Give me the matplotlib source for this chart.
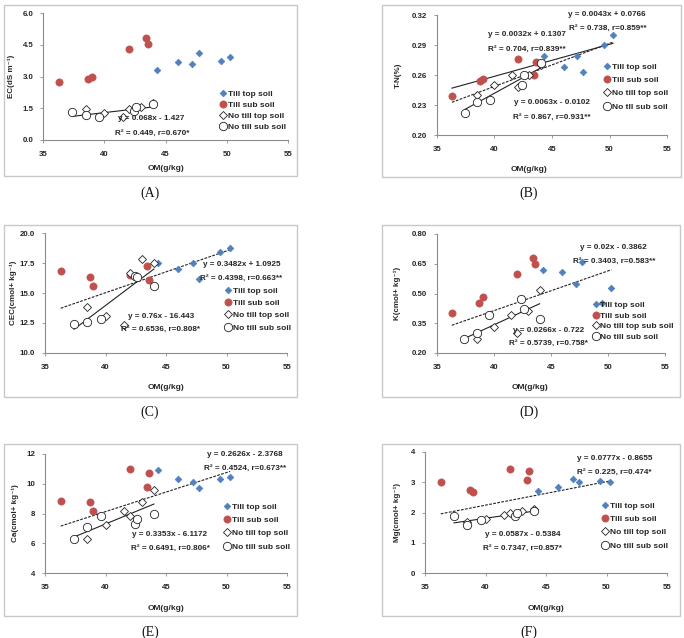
import numpy as np
import matplotlib.pyplot as plt
from matplotlib.patches import Rectangle

plt.rcParams['font.family'] = ['Liberation Sans', 'DejaVu Sans']

# OM (g/kg) for each group
om_till_top = [44.3, 46.0, 47.2, 47.7, 49.5, 50.3]
om_till_sub = [36.3, 38.7, 39.0, 42.0, 43.4, 43.6]
om_nt_top = [38.5, 40.0, 41.5, 42.0, 43.0, 44.0]
om_nt_sub = [37.4, 38.5, 39.6, 42.4, 42.6, 44.0]

# (A) EC
ec_till_top = [3.32, 3.70, 3.57, 4.10, 3.73, 3.92]
ec_till_sub = [2.75, 2.87, 2.98, 4.32, 4.82, 4.55]
ec_nt_top = [1.45, 1.27, 1.08, 1.45, 1.58, 1.75]
ec_nt_sub = [1.32, 1.18, 1.07, 1.38, 1.58, 1.72]

# (B) T-N
tn_till_top = [0.279, 0.268, 0.279, 0.263, 0.290, 0.300]
tn_till_sub = [0.239, 0.254, 0.256, 0.276, 0.260, 0.273]
tn_nt_top = [0.240, 0.250, 0.260, 0.248, 0.260, 0.270]
tn_nt_sub = [0.222, 0.233, 0.235, 0.250, 0.260, 0.272]

# (C) CEC
cec_till_top = [17.5, 17.0, 17.5, 16.2, 18.4, 18.75]
cec_till_sub = [16.8, 16.35, 15.55, 16.5, 17.25, 16.1]
cec_nt_top = [13.85, 13.1, 12.35, 16.7, 17.85, 17.5]
cec_nt_sub = [12.45, 12.6, 12.85, 16.4, 16.3, 15.55]

# (D) K
k_till_top = [0.62, 0.61, 0.55, 0.66, 0.45, 0.53]
k_till_sub = [0.40, 0.45, 0.48, 0.60, 0.68, 0.65]
k_nt_top = [0.27, 0.33, 0.39, 0.30, 0.41, 0.52]
k_nt_sub = [0.27, 0.30, 0.39, 0.47, 0.42, 0.37]

# (E) Ca
ca_till_top = [10.9, 10.3, 10.1, 9.7, 10.3, 10.45]
ca_till_sub = [8.85, 8.75, 8.2, 11.0, 9.8, 10.7]
ca_nt_top = [6.3, 7.25, 8.15, 7.85, 8.8, 9.6]
ca_nt_sub = [6.3, 7.1, 7.8, 7.3, 7.65, 8.0]

# (F) Mg
mg_till_top = [2.7, 2.85, 3.1, 3.0, 3.05, 3.0]
mg_till_sub = [3.0, 2.75, 2.68, 3.45, 3.08, 3.38]
mg_nt_top = [1.68, 1.8, 1.92, 2.0, 2.05, 2.1]
mg_nt_sub = [1.9, 1.6, 1.75, 1.9, 1.97, 2.05]

legend_labels = ['Till top soil', 'Till sub soil', 'No till top soil', 'No till sub soil']

W, H = 684, 638
fig = plt.figure(figsize=(6.84, 6.38), dpi=100)


def fx(x):
    return x / W


def fy(y):
    return 1 - y / H


TXT = '#262626'

panels = [
    dict(tag='(A)', box=(4, 5, 297, 176), ax=(43, 13, 288, 140),
         ys=[ec_till_top, ec_till_sub, ec_nt_top, ec_nt_sub],
         ylim=(0, 6), step=1.5, fmt='{:.1f}', ylabel='EC(dS m⁻¹)',
         ylab_x=11, xlab=(166, 169), tag_pos=(150, 193),
         lines=[(0.068, -1.427, 37.4, 44.0, '-')],
         texts=[(118, 118, 'y = 0.068x - 1.427'), (115, 133, 'R² = 0.449, r=0.670*')],
         leg=(223, 95, 0.4), labels=legend_labels),
    dict(tag='(B)', box=(382, 5, 681, 177), ax=(437, 15, 667, 135),
         ys=[tn_till_top, tn_till_sub, tn_nt_top, tn_nt_sub],
         ylim=(0.20, 0.32), step=0.03, fmt='{:.2f}', ylabel='T-N(%)',
         ylab_x=398, xlab=(529, 169), tag_pos=(529, 193),
         lines=[(0.0043, 0.0766, 36.3, 50.3, '--'), (0.0032, 0.1307, 36.3, 50.3, '-'),
                (0.0063, -0.0102, 37.4, 44.0, '-')],
         texts=[(568, 14, 'y = 0.0043x + 0.0766'), (569, 28, 'R² = 0.738, r=0.859**'),
                (488, 34, 'y = 0.0032x + 0.1307'), (488, 49, 'R² = 0.704, r=0.839**'),
                (514, 103, 'y = 0.0063x - 0.0102'), (513, 117, 'R² = 0.867, r=0.931**')],
         leg=(607, 68, 0.65),
         labels=['Till top soil', 'Till sub soil', 'No till top soil', 'No tll sub soil']),
    dict(tag='(C)', box=(4, 225, 297, 397), ax=(45, 233, 287, 353),
         ys=[cec_till_top, cec_till_sub, cec_nt_top, cec_nt_sub],
         ylim=(10, 20), step=2.5, fmt='{:.1f}', ylabel='CEC(cmol+ kg⁻¹)',
         ylab_x=13, xlab=(166, 388), tag_pos=(150, 412),
         lines=[(0.3482, 1.0925, 36.3, 50.3, '--'), (0.76, -16.443, 37.4, 44.0, '-')],
         texts=[(203, 265, 'y = 0.3482x + 1.0925'), (200, 278, 'R² = 0.4398, r=0.663**'),
                (128, 317, 'y = 0.76x - 16.443'), (121, 329, 'R² = 0.6536, r=0.808*')],
         leg=(228, 292, 0.53), labels=legend_labels),
    dict(tag='(D)', box=(382, 225, 680, 397), ax=(437, 234, 665, 353),
         ys=[k_till_top, k_till_sub, k_nt_top, k_nt_sub],
         ylim=(0.20, 0.80), step=0.15, fmt='{:.2f}', ylabel='K(cmol+ kg⁻¹)',
         ylab_x=397, xlab=(530, 388), tag_pos=(529, 412),
         lines=[(0.02, -0.3862, 36.3, 50.3, '--'), (0.0266, -0.722, 37.4, 44.0, '-')],
         texts=[(580, 247, 'y = 0.02x - 0.3862'), (573, 261, 'R² = 0.3403, r=0.583**'),
                (513, 330, 'y = 0.0266x - 0.722'), (509, 343, 'R² = 0.5739, r=0.758*')],
         leg=(596, 306, 0.35),
         labels=['Till top soil', 'Till sub soil', 'No till top sub soil', 'No till sub soil']),
    dict(tag='(E)', box=(4, 444, 297, 616), ax=(45, 454, 287, 573),
         ys=[ca_till_top, ca_till_sub, ca_nt_top, ca_nt_sub],
         ylim=(4, 12), step=2, fmt='{:.0f}', ylabel='Ca(cmol+ kg⁻¹)',
         ylab_x=15, xlab=(166, 608), tag_pos=(150, 632),
         lines=[(0.2626, -2.3768, 36.3, 50.3, '--'), (0.3353, -6.1172, 37.4, 44.0, '-')],
         texts=[(207, 454, 'y = 0.2626x - 2.3768'), (204, 468, 'R² = 0.4524, r=0.673**'),
                (132, 534, 'y = 0.3353x - 6.1172'), (131, 548, 'R² = 0.6491, r=0.806*')],
         leg=(227, 508, 0.65), labels=legend_labels),
    dict(tag='(F)', box=(382, 444, 680, 616), ax=(425, 452, 667, 573),
         ys=[mg_till_top, mg_till_sub, mg_nt_top, mg_nt_sub],
         ylim=(0, 4), step=1, fmt='{:.0f}', ylabel='Mg(cmol+ kg⁻¹)',
         ylab_x=397, xlab=(546, 608), tag_pos=(529, 632),
         lines=[(0.0777, -0.8655, 36.3, 50.3, '--'), (0.0587, -0.5384, 37.4, 44.0, '-')],
         texts=[(577, 459, 'y = 0.0777x - 0.8655'), (577, 472, 'R² = 0.225, r=0.474*'),
                (485, 534, 'y = 0.0587x - 0.5384'), (483, 548, 'R² = 0.7347, r=0.857*')],
         leg=(605, 507, 0.65), labels=legend_labels),
]

xs = [om_till_top, om_till_sub, om_nt_top, om_nt_sub]
styles = [
    dict(marker='D', ms=3.4, mfc='#4F81BD', mec='#4F81BD', mew=0.5),
    dict(marker='o', ms=5.2, mfc='#C0504D', mec='#C0504D', mew=0.5),
    dict(marker='D', ms=3.8, mfc='white', mec='#222222', mew=0.6),
    dict(marker='o', ms=6.0, mfc='white', mec='#222222', mew=0.6),
]

for p in panels:
    # outer grey frame
    bx0, by0, bx1, by1 = p['box']
    fig.patches.append(Rectangle((fx(bx0), fy(by1)), fx(bx1 - bx0), (by1 - by0) / H,
                                 transform=fig.transFigure, fill=False,
                                 edgecolor='#c8c8c8', lw=1.0))
    x0, y0, x1, y1 = p['ax']
    ax = fig.add_axes([fx(x0), fy(y1), fx(x1 - x0), (y1 - y0) / H])
    handles = []
    for xv, yv, st, lab in zip(xs, p['ys'], styles, p['labels']):
        h, = ax.plot(xv, yv, linestyle='none', label=lab, zorder=3, **st)
        handles.append(h)
    for slope, icpt, xa, xb, ls in p['lines']:
        xl = np.array([xa, xb])
        ax.plot(xl, slope * xl + icpt, color='#222222', lw=0.8, ls=ls,
                dashes=(2.5, 1.2) if ls == '--' else (None, None), zorder=2)
    ax.set_xlim(35, 55)
    ax.set_ylim(*p['ylim'])
    ax.set_xticks(np.arange(35, 56, 5))
    yt = np.arange(p['ylim'][0], p['ylim'][1] + p['step'] / 2, p['step'])
    ax.set_yticks(yt)
    ax.set_yticklabels([p['fmt'].format(v) for v in yt])
    for s in ['top', 'right']:
        ax.spines[s].set_visible(False)
    for s in ['left', 'bottom']:
        ax.spines[s].set_color('#8c8c8c')
        ax.spines[s].set_linewidth(0.8)
    ax.tick_params(length=2, width=0.6, color='#8c8c8c', labelsize=5.7,
                   labelcolor=TXT, pad=5)
    ax.tick_params(axis='x', pad=6)
    for t in ax.get_xticklabels() + ax.get_yticklabels():
        t.set_fontweight('bold')
    ax.set_ylabel(p['ylabel'], fontsize=5.8, fontweight='bold', color=TXT)
    ax.yaxis.label.set_va('center')
    ax.yaxis.set_label_coords((p['ylab_x'] - x0) / (x1 - x0), 0.5)
    ax.set_xlabel('OM(g/kg)', fontsize=6, fontweight='bold', color=TXT)
    ax.xaxis.label.set_va('center')
    ax.xaxis.set_label_coords((p['xlab'][0] - x0) / (x1 - x0),
                              (y1 - p['xlab'][1]) / (y1 - y0))
    ax.patch.set_alpha(0)
    for tx, ty, s in p['texts']:
        fig.text(fx(tx), fy(ty), s, fontsize=5.9, fontweight='bold', color=TXT,
                 ha='left', va='center')
    lx, ly, lsp = p['leg']
    ax.legend(handles=handles, loc='upper left', frameon=False,
              bbox_to_anchor=(fx(lx - 3), fy(ly - 5)), bbox_transform=fig.transFigure,
              borderpad=0, borderaxespad=0, handlelength=0.6, handletextpad=0.3,
              labelspacing=lsp, prop=dict(size=6, weight='bold'), labelcolor=TXT)
    fig.text(fx(p['tag_pos'][0]), fy(p['tag_pos'][1]), p['tag'], fontsize=10,
             family='Liberation Serif', ha='center', va='center', color='#111111')

fig.savefig('out.png', dpi=100)
